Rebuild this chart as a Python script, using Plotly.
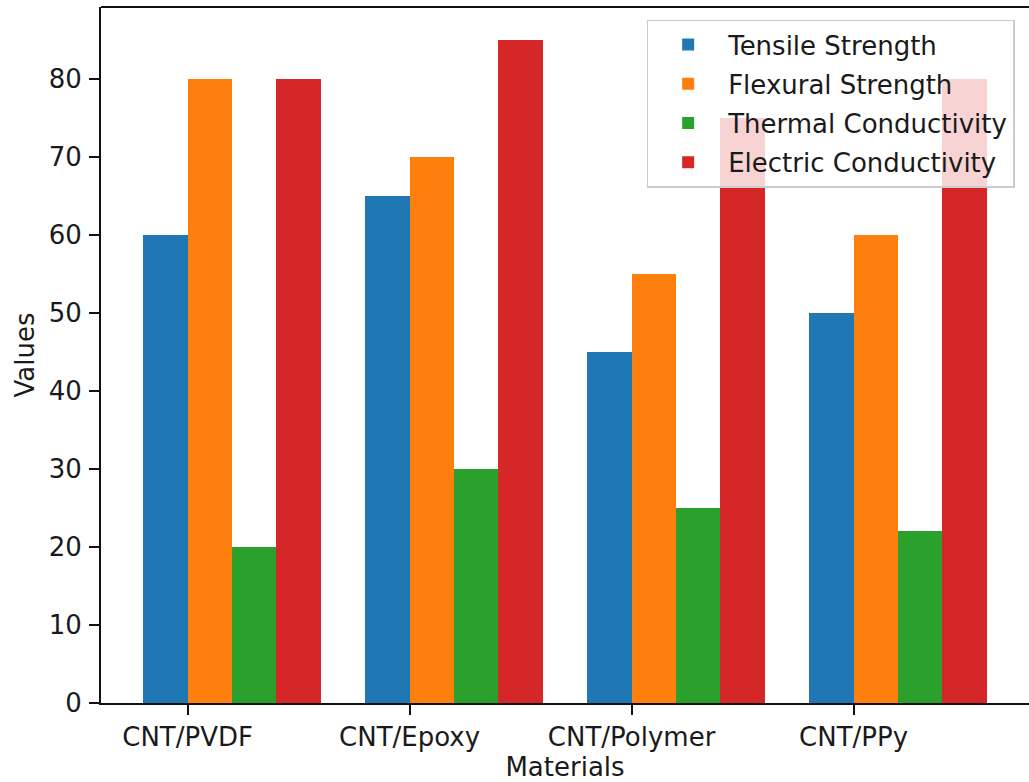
import numpy as np
import plotly.graph_objects as go

categories = ["CNT/PVDF", "CNT/Epoxy", "CNT/Polymer", "CNT/PPy"]
series_names = ["Tensile Strength", "Flexural Strength", "Thermal Conductivity", "Electric Conductivity"]
tensile = [60, 65, 45, 50]
flexural = [80, 70, 55, 60]
thermal = [20, 30, 25, 22]
electric = [80, 85, 75, 80]
y_ticks = [0, 10, 20, 30, 40, 50, 60, 70, 80]

series_values = [tensile, flexural, thermal, electric]
colors = ["#1f77b4", "#ff7f0e", "#2ca02c", "#d62728"]
bar_w = 0.2
idx = np.arange(len(categories))

FONT = "DejaVu Sans"
FS = 26
fig = go.Figure()
for k, (name, vals) in enumerate(zip(series_names, series_values)):
    fig.add_trace(go.Bar(
        x=idx + k * bar_w - bar_w / 2,
        y=vals,
        width=bar_w,
        name=name,
        legendgroup=name,
        marker=dict(color=colors[k], line=dict(width=0)),
    ))

axis_col = "#111111"
fig.update_layout(
    width=1029, height=782, autosize=False,
    margin=dict(l=101, r=0, t=7, b=79, pad=0, autoexpand=False),
    paper_bgcolor="white", plot_bgcolor="white",
    font=dict(family=FONT, size=FS, color="#1a1a1a"),
    bargap=0,
    showlegend=True,
    legend=dict(
        x=0.588, y=0.982, xanchor="left", yanchor="top",
        bgcolor="rgba(255,255,255,0.8)",
        bordercolor="#cccccc", borderwidth=1.5,
        font=dict(family=FONT, size=FS, color="#1a1a1a"),
        tracegroupgap=2.5,
        itemwidth=70,
        traceorder="grouped",
    ),
    xaxis=dict(
        range=[-0.39, 3.79], automargin=False,
        tickmode="array", tickvals=list(idx), ticktext=categories,
        ticks="outside", ticklen=10, tickwidth=2, tickcolor=axis_col,
        showline=True, linecolor=axis_col, linewidth=2,
        showgrid=False, zeroline=False,
        title=dict(text="Materials", standoff=9, font=dict(size=FS)),
        tickfont=dict(size=FS),
    ),
    yaxis=dict(
        range=[0, 89.25], automargin=False,
        tickmode="array", tickvals=y_ticks,
        ticks="outside", ticklen=10, tickwidth=2, tickcolor=axis_col,
        showline=True, linecolor=axis_col, linewidth=2,
        showgrid=False, zeroline=False,
        ticklabelstandoff=2,
        title=dict(text="Values", standoff=7, font=dict(size=FS)),
        tickfont=dict(size=FS),
    ),
)
# top spine
fig.add_shape(type="line", xref="paper", yref="paper", x0=0, x1=1, y0=1, y1=1,
              line=dict(color=axis_col, width=2))

fig.write_html("out.html", config={"displayModeBar": False},
               post_script="document.body.style.margin='0';document.body.style.overflow='hidden';")
